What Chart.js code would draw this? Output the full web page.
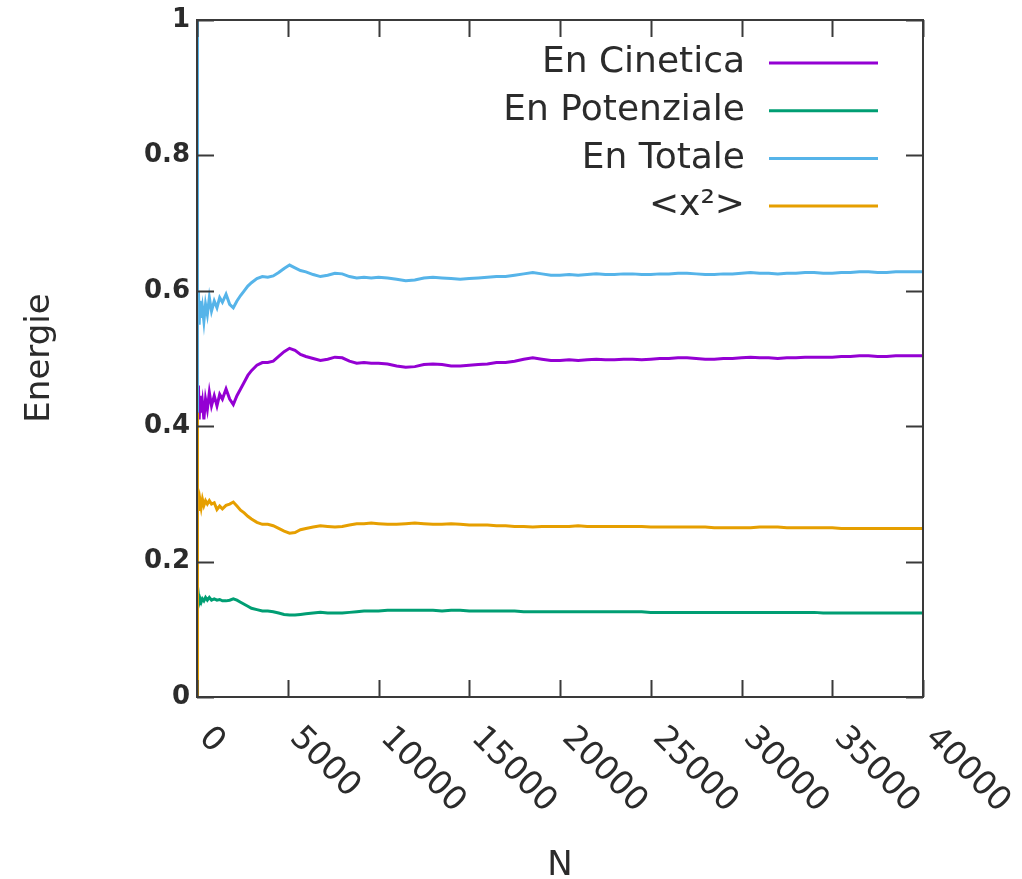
<!DOCTYPE html>
<html>
<head>
<meta charset="utf-8">
<script src="https://cdn.jsdelivr.net/npm/chart.js@4/dist/chart.umd.min.js"></script>
<style>
  html, body { margin: 0; padding: 0; background: #fff; }
  canvas { display: block; }
</style>
</head>
<body>
<canvas id="chart" width="1022" height="879"></canvas>
<script>
// N (passi Monte Carlo)
const nValues = [
  0, 10, 25, 50, 80, 120, 170, 230, 300, 380,
  470, 570, 680, 800, 950, 1100, 1250, 1400, 1600, 1800,
  2000, 2200, 2400, 2600, 2800, 3000, 3300, 3600, 3900, 4200,
  4500, 4800, 5100, 5400, 5700, 6000, 6400, 6800, 7200, 7600,
  8000, 8400, 8800, 9200, 9600, 10000,
  10500, 11000, 11500, 12000, 12500, 13000, 13500, 14000, 14500, 15000,
  15500, 16000, 16500, 17000, 17500, 18000, 18500, 19000, 19500, 20000,
  20500, 21000, 21500, 22000, 22500, 23000, 23500, 24000, 24500, 25000,
  25500, 26000, 26500, 27000, 27500, 28000, 28500, 29000, 29500, 30000,
  30500, 31000, 31500, 32000, 32500, 33000, 33500, 34000, 34500, 35000,
  35500, 36000, 36500, 37000, 37500, 38000, 38500, 39000, 39500, 40000
];

const enCinetica = [
  0.50, 0.40, 0.47, 0.43, 0.46, 0.41, 0.445, 0.42, 0.435, 0.41,
  0.44, 0.425, 0.45, 0.43, 0.445, 0.43, 0.447, 0.44, 0.455, 0.44,
  0.432, 0.445, 0.455, 0.465, 0.475, 0.482, 0.49, 0.494, 0.494, 0.496,
  0.503, 0.51, 0.515, 0.512, 0.506, 0.503, 0.50, 0.497, 0.499, 0.502,
  0.501, 0.496, 0.493, 0.494, 0.493, 0.493,
  0.492, 0.489, 0.487, 0.488, 0.491, 0.492, 0.491, 0.489, 0.489, 0.490,
  0.491, 0.492, 0.494, 0.494, 0.496, 0.499, 0.501, 0.499, 0.497, 0.497,
  0.498, 0.497, 0.498, 0.499, 0.498, 0.498, 0.499, 0.499, 0.498, 0.499,
  0.500, 0.500, 0.501, 0.501, 0.500, 0.499, 0.499, 0.500, 0.500, 0.501,
  0.502, 0.501, 0.501, 0.500, 0.501, 0.501, 0.502, 0.502, 0.502, 0.502,
  0.503, 0.503, 0.504, 0.504, 0.503, 0.503, 0.504, 0.504, 0.504, 0.504
];

const enPotenziale = [
  0.00, 0.02, 0.16, 0.14, 0.15, 0.14, 0.145, 0.14, 0.145, 0.142,
  0.147, 0.143, 0.147, 0.143, 0.145, 0.143, 0.144, 0.142, 0.142, 0.143,
  0.145, 0.143, 0.14, 0.137, 0.134, 0.131, 0.129, 0.127, 0.127, 0.126,
  0.124, 0.122, 0.121, 0.121, 0.122, 0.123, 0.124, 0.125, 0.124, 0.124,
  0.124, 0.125, 0.126, 0.127, 0.127, 0.127,
  0.128, 0.128, 0.128, 0.128, 0.128, 0.128, 0.127, 0.128, 0.128, 0.127,
  0.127, 0.127, 0.127, 0.127, 0.127, 0.126, 0.126, 0.126, 0.126, 0.126,
  0.126, 0.126, 0.126, 0.126, 0.126, 0.126, 0.126, 0.126, 0.126, 0.125,
  0.125, 0.125, 0.125, 0.125, 0.125, 0.125, 0.125, 0.125, 0.125, 0.125,
  0.125, 0.125, 0.125, 0.125, 0.125, 0.125, 0.125, 0.125, 0.124, 0.124,
  0.124, 0.124, 0.124, 0.124, 0.124, 0.124, 0.124, 0.124, 0.124, 0.124
];

const enTotale = [
  1.00, 0.42, 0.62, 0.57, 0.60, 0.55, 0.585, 0.56, 0.575, 0.555,
  0.58, 0.565, 0.59, 0.57, 0.585, 0.575, 0.59, 0.583, 0.595, 0.58,
  0.575, 0.585, 0.593, 0.60, 0.607, 0.612, 0.618, 0.621, 0.62, 0.622,
  0.627, 0.633, 0.638, 0.634, 0.63, 0.628, 0.624, 0.621, 0.623, 0.626,
  0.625, 0.621, 0.619, 0.62, 0.619, 0.62,
  0.619, 0.617, 0.615, 0.616, 0.619, 0.620, 0.619, 0.618, 0.617, 0.618,
  0.619, 0.620, 0.621, 0.621, 0.623, 0.625, 0.627, 0.625, 0.623, 0.623,
  0.624, 0.623, 0.624, 0.625, 0.624, 0.624, 0.625, 0.625, 0.624, 0.624,
  0.625, 0.625, 0.626, 0.626, 0.625, 0.624, 0.624, 0.625, 0.625, 0.626,
  0.627, 0.626, 0.626, 0.625, 0.626, 0.626, 0.627, 0.627, 0.626, 0.626,
  0.627, 0.627, 0.628, 0.628, 0.627, 0.627, 0.628, 0.628, 0.628, 0.628
];

const x2Medio = [
  0.00, 0.42, 0.31, 0.28, 0.29, 0.275, 0.29, 0.28, 0.292, 0.283,
  0.29, 0.285, 0.29, 0.285, 0.287, 0.277, 0.282, 0.278, 0.283, 0.285,
  0.288, 0.282, 0.276, 0.272, 0.267, 0.263, 0.258, 0.255, 0.255, 0.253,
  0.249, 0.245, 0.242, 0.243, 0.247, 0.249, 0.251, 0.253, 0.252, 0.251,
  0.252, 0.254, 0.256, 0.256, 0.257, 0.256,
  0.255, 0.255, 0.256, 0.257, 0.256, 0.255, 0.255, 0.256, 0.255, 0.254,
  0.254, 0.254, 0.253, 0.253, 0.252, 0.252, 0.251, 0.252, 0.252, 0.252,
  0.252, 0.253, 0.252, 0.252, 0.252, 0.252, 0.252, 0.252, 0.252, 0.251,
  0.251, 0.251, 0.251, 0.251, 0.251, 0.251, 0.250, 0.250, 0.250, 0.250,
  0.250, 0.251, 0.251, 0.251, 0.250, 0.250, 0.250, 0.250, 0.250, 0.250,
  0.249, 0.249, 0.249, 0.249, 0.249, 0.249, 0.249, 0.249, 0.249, 0.249
];

const seriesLabels = ['En Cinetica', 'En Potenziale', 'En Totale', '<x\u00B2>'];
const xTicks = [0, 5000, 10000, 15000, 20000, 25000, 30000, 35000, 40000];
const yTicks = [0, 0.2, 0.4, 0.6, 0.8, 1];
const yTickLabels = ['0', '0.2', '0.4', '0.6', '0.8', '1'];

const FONT = '"DejaVu Sans", sans-serif';
const textColor = '#2b2b2b';

function punti(arr) {
  return nValues.map((n, i) => ({ x: n, y: arr[i] }));
}

// cornice, tacche interne, etichette e legenda in stile gnuplot
const gnuplotFrame = {
  id: 'gnuplotFrame',
  afterDraw(chart) {
    const ctx = chart.ctx;
    const area = chart.chartArea;
    const xs = chart.scales.x;
    const ys = chart.scales.y;
    const tick = 17;

    ctx.save();
    ctx.strokeStyle = '#3a3a3a';
    ctx.lineWidth = 2;
    ctx.strokeRect(area.left, area.top, area.right - area.left, area.bottom - area.top);

    ctx.beginPath();
    xTicks.forEach(v => {
      const px = Math.round(xs.getPixelForValue(v)) + 0.5;
      ctx.moveTo(px, area.bottom); ctx.lineTo(px, area.bottom - tick);
      ctx.moveTo(px, area.top); ctx.lineTo(px, area.top + tick);
    });
    yTicks.forEach(v => {
      const py = Math.round(ys.getPixelForValue(v)) + 0.5;
      ctx.moveTo(area.left, py); ctx.lineTo(area.left + tick, py);
      ctx.moveTo(area.right, py); ctx.lineTo(area.right - tick, py);
    });
    ctx.stroke();

    // etichette asse y
    ctx.fillStyle = textColor;
    ctx.font = 'bold 26px ' + FONT;
    ctx.textAlign = 'right';
    ctx.textBaseline = 'middle';
    yTicks.forEach((v, i) => {
      ctx.fillText(yTickLabels[i], area.left - 7, ys.getPixelForValue(v));
    });

    // etichette asse x ruotate di 45 gradi
    ctx.font = '33px ' + FONT;
    ctx.textAlign = 'left';
    xTicks.forEach(v => {
      const px = xs.getPixelForValue(v);
      ctx.save();
      ctx.translate(px + 7, area.bottom + 36);
      ctx.rotate(Math.PI / 4);
      ctx.fillText(String(v), 0, 0);
      ctx.restore();
    });

    // titoli assi
    ctx.font = '34px ' + FONT;
    ctx.textAlign = 'center';
    ctx.fillText('N', (area.left + area.right) / 2, 866);
    ctx.save();
    ctx.translate(40, 358);
    ctx.rotate(-Math.PI / 2);
    ctx.fillText('Energie', 0, 0);
    ctx.restore();

    // legenda
    ctx.font = '36px ' + FONT;
    ctx.textAlign = 'right';
    chart.data.datasets.forEach((ds, i) => {
      const y = 63 + i * 47.7;
      ctx.fillStyle = textColor;
      ctx.fillText(ds.label, 745, y);
      ctx.strokeStyle = ds.borderColor;
      ctx.lineWidth = 3;
      ctx.beginPath();
      ctx.moveTo(769, y);
      ctx.lineTo(878, y);
      ctx.stroke();
    });
    ctx.restore();
  }
};

new Chart(document.getElementById('chart'), {
  type: 'line',
  data: {
    datasets: [
      { label: seriesLabels[0], data: punti(enCinetica), borderColor: '#9400d3', order: 3 },
      { label: seriesLabels[1], data: punti(enPotenziale), borderColor: '#009e73', order: 2 },
      { label: seriesLabels[2], data: punti(enTotale), borderColor: '#56b4e9', order: 1 },
      { label: seriesLabels[3], data: punti(x2Medio), borderColor: '#e69f00', order: 0 }
    ]
  },
  options: {
    responsive: false,
    animation: false,
    devicePixelRatio: 1,
    layout: { padding: { left: 197, right: 99, top: 20, bottom: 182 } },
    elements: {
      point: { radius: 0 },
      line: { borderWidth: 3, tension: 0, fill: false }
    },
    plugins: { legend: { display: false }, tooltip: { enabled: false } },
    scales: {
      x: { type: 'linear', min: 0, max: 40000, display: false },
      y: { type: 'linear', min: 0, max: 1, display: false }
    }
  },
  plugins: [gnuplotFrame]
});
</script>
</body>
</html>
